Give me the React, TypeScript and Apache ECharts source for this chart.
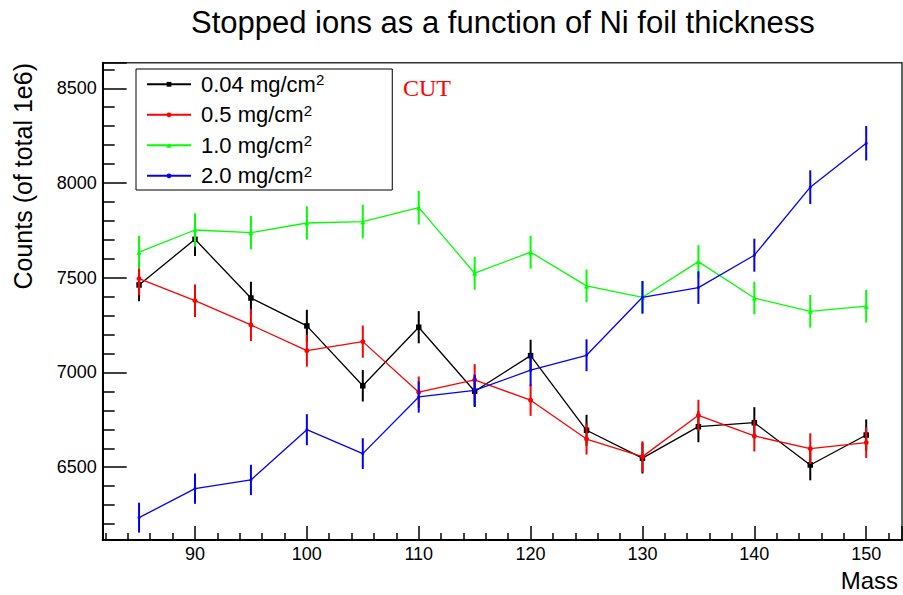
import React, { useEffect, useRef } from 'react';
import * as echarts from 'echarts';

const masses = [85, 90, 95, 100, 105, 110, 115, 120, 125, 130, 135, 140, 145, 150];
const seriesNames = ['0.04 mg/cm2', '0.5 mg/cm2', '1.0 mg/cm2', '2.0 mg/cm2'];

const counts004 = [7462, 7703, 7393, 7246, 6930, 7239, 6901, 7089, 6695, 6548, 6714, 6735, 6512, 6670];
const counts05 = [7495, 7379, 7251, 7115, 7163, 6896, 6961, 6854, 6649, 6556, 6774, 6665, 6598, 6630];
const counts10 = [7635, 7752, 7738, 7789, 7796, 7870, 7524, 7635, 7457, 7397, 7585, 7393, 7323, 7350];
const counts20 = [6234, 6387, 6433, 6698, 6572, 6871, 6906, 7012, 7091, 7397, 7448, 7619, 7978, 8210];

const err004 = [86, 88, 86, 85, 83, 85, 83, 84, 82, 81, 82, 82, 81, 82];
const err05 = [87, 86, 85, 84, 85, 83, 83, 83, 82, 81, 82, 82, 81, 81];
const err10 = [87, 88, 88, 88, 88, 89, 87, 87, 86, 86, 87, 86, 86, 86];
const err20 = [79, 80, 80, 82, 81, 83, 83, 84, 84, 86, 86, 87, 89, 91];

const titleText = 'Stopped ions as a function of Ni foil thickness';
const xTitle = 'Mass';
const yTitle = 'Counts (of total 1e6)';
const cutText = 'CUT';

const allCounts = [counts004, counts05, counts10, counts20];
const allErrs = [err004, err05, err10, err20];
const colors = ['#000000', '#ff0000', '#00ff00', '#0000ff'];
const symbols = ['rect', 'circle', 'triangle', 'circle'];
const symbolSizes = [5.5, 5, 5, 3];

const FONT = "'Liberation Sans', Arial, Helvetica, sans-serif";

export default function App() {
  const ref = useRef<HTMLDivElement>(null);
  useEffect(() => {
    if (!ref.current) return;
    const chart = echarts.init(ref.current, undefined, { renderer: 'svg' });
    const series: any[] = [];
    seriesNames.forEach((name, k) => {
      const vals = allCounts[k];
      const errs = allErrs[k];
      const color = colors[k];
      series.push({
        type: 'custom',
        name: name + ' error',
        data: masses.map((m, i) => [m, vals[i], errs[i]]),
        encode: { x: 0, y: 1 },
        silent: true,
        z: 2 + k,
        renderItem: (params: any, api: any) => {
          const x = api.value(0);
          const y = api.value(1);
          const e = api.value(2);
          const p1 = api.coord([x, y + e]);
          const p2 = api.coord([x, y - e]);
          return {
            type: 'line',
            shape: { x1: p1[0], y1: p1[1], x2: p2[0], y2: p2[1] },
            style: { stroke: color, lineWidth: 2 },
          };
        },
      });
      series.push({
        type: 'line',
        name,
        data: masses.map((m, i) => [m, vals[i]]),
        symbol: symbols[k],
        symbolSize: symbolSizes[k],
        showSymbol: true,
        itemStyle: { color },
        lineStyle: { color, width: 1.3 },
        z: 2 + k,
      });
    });

    const option: any = {
      animation: false,
      backgroundColor: '#ffffff',
      title: {
        text: titleText,
        left: 191,
        top: 7,
        padding: 0,
        textStyle: { fontFamily: FONT, fontSize: 31, fontWeight: 'normal', color: '#000' },
      },
      grid: {
        left: 102.7,
        right: 1,
        top: 62.7,
        bottom: 55,
        show: true,
        borderColor: '#333',
        borderWidth: 1.5,
        backgroundColor: 'transparent',
        containLabel: false,
        outerBoundsMode: 'none',
      },
      legend: {
        data: seriesNames,
        orient: 'vertical',
        left: 136,
        top: 69,
        padding: [3.3, 68, 2.2, 10],
        itemGap: 6.5,
        itemWidth: 44,
        itemHeight: 6,
        borderColor: '#000',
        borderWidth: 1,
        backgroundColor: '#fff',
        selectedMode: false,
        formatter: (name: string) => name.slice(0, -1) + '{sup|2}',
        textStyle: {
          fontFamily: FONT,
          fontSize: 22,
          lineHeight: 24,
          color: '#000',
          padding: [0, 0, 0, 5],
          rich: {
            sup: { fontFamily: FONT, fontSize: 15, color: '#000', verticalAlign: 'top', lineHeight: 16 },
          },
        },
      },
      xAxis: {
        type: 'value',
        min: 81.75,
        max: 153.2,
        splitNumber: 7,
        axisLine: { show: true, onZero: false, lineStyle: { color: '#000', width: 2 } },
        axisTick: { show: true, inside: true, length: 14, lineStyle: { color: '#000', width: 1.5 } },
        minorTick: { show: true, splitNumber: 5, length: 7, lineStyle: { color: '#000', width: 1.5 } },
        splitLine: { show: false },
        axisLabel: {
          formatter: (v: number) => (Math.abs(v % 10) < 1e-9 ? String(v) : ''),
          fontFamily: FONT,
          fontSize: 18,
          color: '#000',
          margin: 5,
        },
        name: xTitle,
        nameLocation: 'end',
        nameGap: -4,
        nameTextStyle: {
          align: 'right',
          verticalAlign: 'top',
          fontFamily: FONT,
          fontSize: 24,
          color: '#000',
          padding: [28, 0, 0, 0],
        },
      },
      yAxis: {
        type: 'value',
        min: 6116,
        max: 8635,
        splitNumber: 5,
        axisLine: { show: true, onZero: false, lineStyle: { color: '#000', width: 2 } },
        axisTick: { show: true, inside: true, length: 24, lineStyle: { color: '#000', width: 1.5 } },
        minorTick: { show: true, splitNumber: 5, length: 12, lineStyle: { color: '#000', width: 1.5 } },
        splitLine: { show: false },
        axisLabel: {
          formatter: (v: number) => (Math.abs(v % 500) < 1e-9 ? String(v) : ''),
          fontFamily: FONT,
          fontSize: 18,
          color: '#000',
          margin: 6,
        },
      },
      graphic: [
        {
          type: 'text',
          x: 22.5,
          y: 63,
          rotation: Math.PI / 2,
          style: {
            text: yTitle,
            fontFamily: FONT,
            fontSize: 25,
            fill: '#000',
            align: 'right',
            verticalAlign: 'middle',
          },
        },
        {
          type: 'text',
          x: 403,
          y: 88,
          style: {
            text: cutText,
            fontFamily: "'Liberation Serif', 'Times New Roman', serif",
            fontSize: 24,
            fill: '#ff0000',
            align: 'left',
            verticalAlign: 'middle',
          },
        },
      ],
      series,
    };
    chart.setOption(option);
    return () => chart.dispose();
  }, []);
  return (
    <div
      ref={ref}
      style={{ position: 'absolute', left: 0, top: 0, width: 903, height: 595, background: '#fff' }}
    />
  );
}
